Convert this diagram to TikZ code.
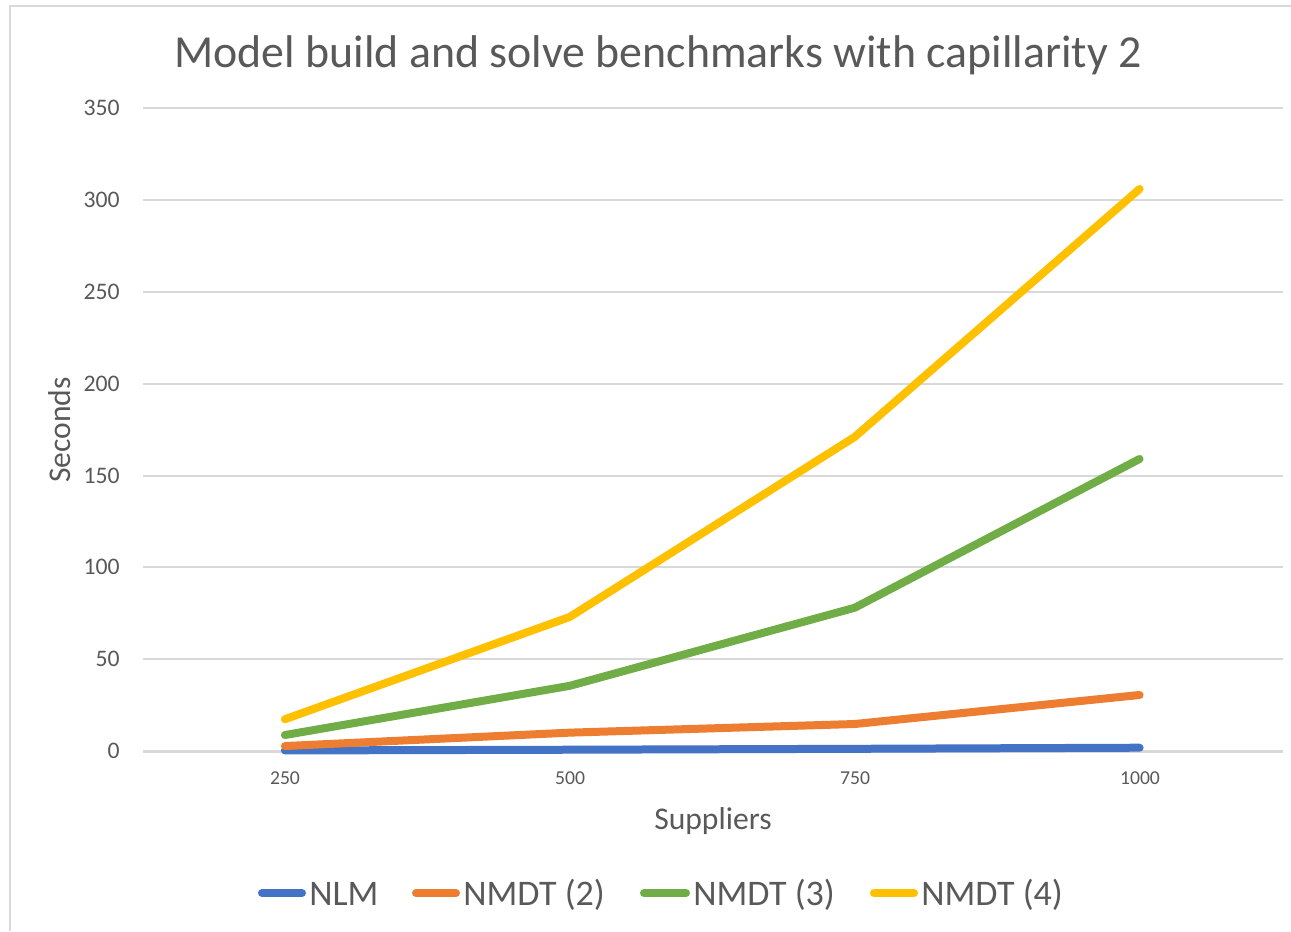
\documentclass[tikz,border=0pt]{standalone}
\usepackage{fontspec}
\setmainfont{Carlito}
\usetikzlibrary{calc}
\definecolor{axisGray}{HTML}{595959}
\definecolor{gridGray}{HTML}{D9D9D9}
\definecolor{frameGray}{HTML}{D9D9D9}
\definecolor{nlmBlue}{HTML}{4472C4}
\definecolor{nmdtOrange}{HTML}{ED7D31}
\definecolor{nmdtGreen}{HTML}{70AD47}
\definecolor{nmdtYellow}{HTML}{FFC000}

\begin{document}
\begin{tikzpicture}[x=0.02cm, y=-0.02cm,
    series/.style={line width=0.16cm, line cap=round, line join=round},
    gridline/.style={gridGray, line width=0.03cm},
    ylabel/.style={text=axisGray, inner sep=0pt, anchor=east, font=\fontsize{13.5}{16}\selectfont},
    xlabel/.style={text=axisGray, inner sep=0pt, font=\fontsize{11.2}{13}\selectfont},
    axistitle/.style={text=axisGray, inner sep=0pt, font=\fontsize{18}{21}\selectfont},
    legendtext/.style={text=axisGray, inner sep=0pt, anchor=base west, font=\fontsize{20.5}{24}\selectfont}]
    \useasboundingbox (0,0) rectangle (1291,931);

    % Chart frame
    \draw[frameGray, line width=0.03cm] (10,931) -- (10,6) -- (1291,6);

    % Title
    \node[text=axisGray, inner sep=0pt, anchor=base, font=\fontsize{26.1}{30}\selectfont] (title) at (658,67) {Model build and solve benchmarks with capillarity 2};

    % Gridlines and value labels
    \foreach \v/\py in {350/108, 300/200, 250/292, 200/384, 150/476, 100/567, 50/659} {
        \draw[gridline] (143,\py) -- (1283,\py);
        \node[ylabel] (ylab\v) at (120,\py) {\v};
    }
    \draw[gridGray, line width=0.06cm] (143,751) -- (1283,751);
    \node[ylabel] (ylab0) at (120,751) {0};

    % Category labels
    \node[xlabel] (xlab250) at (285,778) {250};
    \node[xlabel] (xlab500) at (570,778) {500};
    \node[xlabel] (xlab750) at (855,778) {750};
    \node[xlabel] (xlab1000) at (1140,778) {1000};

    % Axis titles
    \node[axistitle, anchor=base] (suppliers) at (713,829) {Suppliers};
    \node[axistitle, rotate=90] (seconds) at (60,430) {Seconds};

    % Series
    \begin{scope}[shift={(0,751)}, x=0.0228cm, y=0.036743cm]
        \draw[series, nlmBlue] (250,0.3) -- (500,0.7) -- (750,1.2) -- (1000,1.8);
        \draw[series, nmdtOrange] (250,2.7) -- (500,10) -- (750,14.7) -- (1000,30.5);
        \draw[series, nmdtGreen] (250,8.7) -- (500,35.5) -- (750,78) -- (1000,159);
        \draw[series, nmdtYellow] (250,17.3) -- (500,73) -- (750,171) -- (1000,306);
    \end{scope}

    % Legend
    \node[legendtext] (legNLM) at (309,905) {NLM};
    \node[legendtext] (legNMDTtwo) at (463,905) {NMDT (2)};
    \node[legendtext] (legNMDTthree) at (693,905) {NMDT (3)};
    \node[legendtext] (legNMDTfour) at (921,905) {NMDT (4)};
    \coordinate (nlmA) at (262,893);
    \coordinate (nlmB) at (302,893);
    \coordinate (twoA) at (416,893);
    \coordinate (twoB) at (456,893);
    \coordinate (threeA) at (644,893);
    \coordinate (threeB) at (686,893);
    \coordinate (fourA) at (874,893);
    \coordinate (fourB) at (914,893);
    \draw[series, nlmBlue] (nlmA) -- (nlmB);
    \draw[series, nmdtOrange] (twoA) -- (twoB);
    \draw[series, nmdtGreen] (threeA) -- (threeB);
    \draw[series, nmdtYellow] (fourA) -- (fourB);
\end{tikzpicture}
\end{document}
